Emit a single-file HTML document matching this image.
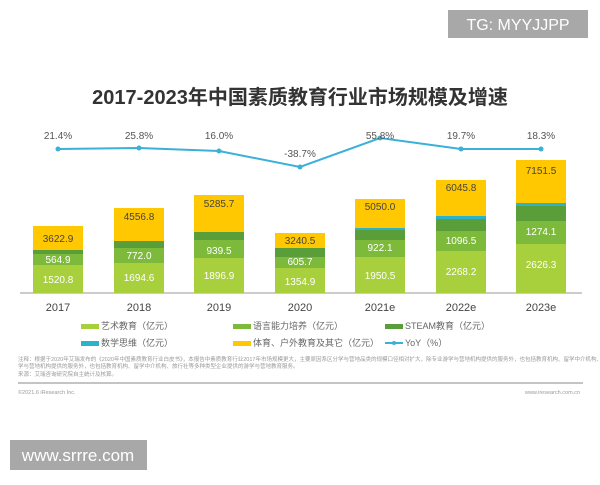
<!DOCTYPE html><html><head><meta charset="utf-8"><style>body{margin:0;width:600px;height:480px;background:#fff;overflow:hidden;font-family:"Liberation Sans","Noto Sans CJK SC",sans-serif}</style></head><body>
<svg width="600" height="480" xmlns="http://www.w3.org/2000/svg" font-family="Liberation Sans, Noto Sans CJK SC, sans-serif">
<rect x="448" y="10" width="140" height="28" fill="#a8a8a8"/>
<text x="518" y="30" fill="#fff" font-size="16" text-anchor="middle">TG: MYYJJPP</text>
<text x="300" y="104" font-size="20" font-weight="bold" fill="#333" text-anchor="middle">2017-2023年中国素质教育行业市场规模及增速</text>
<g id="bars"></g>
<line x1="20" y1="293" x2="582" y2="293" stroke="#999" stroke-width="1"/>
<g font-size="11" fill="#444" text-anchor="middle">
<text x="58" y="311">2017</text><text x="139" y="311">2018</text><text x="219" y="311">2019</text><text x="300" y="311">2020</text><text x="380" y="311">2021e</text><text x="461" y="311">2022e</text><text x="541" y="311">2023e</text>
</g>
<polyline points="58,149 139,148 219,151 300,167 380,138 461,149 541,149" fill="none" stroke="#3bb0d8" stroke-width="2"/>
<g fill="#3bb0d8"><circle cx="58" cy="149" r="2.5"/><circle cx="139" cy="148" r="2.5"/><circle cx="219" cy="151" r="2.5"/><circle cx="300" cy="167" r="2.5"/><circle cx="380" cy="138" r="2.5"/><circle cx="461" cy="149" r="2.5"/><circle cx="541" cy="149" r="2.5"/></g>
<g font-size="10" fill="#555" text-anchor="middle">
<text x="58" y="139">21.4%</text><text x="139" y="139">25.8%</text><text x="219" y="139">16.0%</text><text x="300" y="157">-38.7%</text><text x="380" y="139">55.8%</text><text x="461" y="139">19.7%</text><text x="541" y="139">18.3%</text>
</g>
<g font-size="10" text-anchor="middle">
<!-- bars -->
<rect x="33" y="226" width="50" height="24" fill="#ffc800"/><rect x="33" y="250" width="50" height="4" fill="#5a9e3a"/><rect x="33" y="254" width="50" height="11" fill="#7dba3c"/><rect x="33" y="265" width="50" height="28" fill="#a8cf3c"/>
<text x="58" y="242" fill="#444">3622.9</text><text x="58" y="263" fill="#fff">564.9</text><text x="58" y="283" fill="#fff">1520.8</text>
<rect x="114" y="208" width="50" height="33" fill="#ffc800"/><rect x="114" y="241" width="50" height="7" fill="#5a9e3a"/><rect x="114" y="248" width="50" height="15" fill="#7dba3c"/><rect x="114" y="263" width="50" height="30" fill="#a8cf3c"/>
<text x="139" y="220" fill="#444">4556.8</text><text x="139" y="259" fill="#fff">772.0</text><text x="139" y="281" fill="#fff">1694.6</text>
<rect x="194" y="195" width="50" height="37" fill="#ffc800"/><rect x="194" y="232" width="50" height="8" fill="#5a9e3a"/><rect x="194" y="240" width="50" height="18" fill="#7dba3c"/><rect x="194" y="258" width="50" height="35" fill="#a8cf3c"/>
<text x="219" y="207" fill="#444">5285.7</text><text x="219" y="254" fill="#fff">939.5</text><text x="219" y="279" fill="#fff">1896.9</text>
<rect x="275" y="233" width="50" height="15" fill="#ffc800"/><rect x="275" y="248" width="50" height="9" fill="#5a9e3a"/><rect x="275" y="257" width="50" height="11" fill="#7dba3c"/><rect x="275" y="268" width="50" height="25" fill="#a8cf3c"/>
<text x="300" y="244" fill="#444">3240.5</text><text x="300" y="265" fill="#fff">605.7</text><text x="300" y="285" fill="#fff">1354.9</text>
<rect x="355" y="199" width="50" height="29" fill="#ffc800"/><rect x="355" y="228" width="50" height="2" fill="#2ab3c9"/><rect x="355" y="230" width="50" height="10" fill="#5a9e3a"/><rect x="355" y="240" width="50" height="17" fill="#7dba3c"/><rect x="355" y="257" width="50" height="36" fill="#a8cf3c"/>
<text x="380" y="210" fill="#444">5050.0</text><text x="380" y="251" fill="#fff">922.1</text><text x="380" y="279" fill="#fff">1950.5</text>
<rect x="436" y="180" width="50" height="36" fill="#ffc800"/><rect x="436" y="216" width="50" height="3" fill="#2ab3c9"/><rect x="436" y="219" width="50" height="12" fill="#5a9e3a"/><rect x="436" y="231" width="50" height="20" fill="#7dba3c"/><rect x="436" y="251" width="50" height="42" fill="#a8cf3c"/>
<text x="461" y="191" fill="#444">6045.8</text><text x="461" y="244" fill="#fff">1096.5</text><text x="461" y="275" fill="#fff">2268.2</text>
<rect x="516" y="160" width="50" height="43" fill="#ffc800"/><rect x="516" y="203" width="50" height="3" fill="#2ab3c9"/><rect x="516" y="206" width="50" height="15" fill="#5a9e3a"/><rect x="516" y="221" width="50" height="23" fill="#7dba3c"/><rect x="516" y="244" width="50" height="49" fill="#a8cf3c"/>
<text x="541" y="174" fill="#444">7151.5</text><text x="541" y="235" fill="#fff">1274.1</text><text x="541" y="268" fill="#fff">2626.3</text>
</g>
<g font-size="9" fill="#666">
<rect x="81" y="324" width="18" height="5" fill="#a8cf3c"/><text x="101" y="329">艺术教育（亿元）</text>
<rect x="233" y="324" width="18" height="5" fill="#7dba3c"/><text x="253" y="329">语言能力培养（亿元）</text>
<rect x="385" y="324" width="18" height="5" fill="#5a9e3a"/><text x="405" y="329">STEAM教育（亿元）</text>
<rect x="81" y="341" width="18" height="5" fill="#2ab3c9"/><text x="101" y="346">数学思维（亿元）</text>
<rect x="233" y="341" width="18" height="5" fill="#ffc800"/><text x="253" y="346">体育、户外教育及其它（亿元）</text>
<line x1="385" y1="343" x2="403" y2="343" stroke="#3bb0d8" stroke-width="2"/><circle cx="394" cy="343" r="2" fill="#3bb0d8"/><text x="405" y="346">YoY（%）</text>
</g>
<g font-size="5.5" fill="#999">
<text x="18" y="361">注释：根据于2020年艾瑞发布的《2020年中国素质教育行业白皮书》，本报告中素质教育行业2017年市场规模更大，主要原因系区分学与营地品类的规模口径相对扩大，除专业游学与营地机构提供的服务外，也包括教育机构、留学中介机构、旅行社等多种类型企业提供的游学与营地教育服务。</text>
<text x="18" y="368">学与营地机构提供的服务外，也包括教育机构、留学中介机构、旅行社等多种类型企业提供的游学与营地教育服务。</text>
<text x="18" y="376">来源：艾瑞咨询研究院自主统计及核算。</text>
<text x="18" y="394">©2021.6 iResearch Inc.</text>
<text x="580" y="394" text-anchor="end">www.iresearch.com.cn</text>
</g>
<line x1="18" y1="383" x2="583" y2="383" stroke="#888" stroke-width="1"/>
<rect x="10" y="440" width="137" height="30" fill="#a8a8a8"/>
<text x="78" y="461" fill="#fff" font-size="17" text-anchor="middle">www.srrre.com</text>
</svg>
</body></html>
